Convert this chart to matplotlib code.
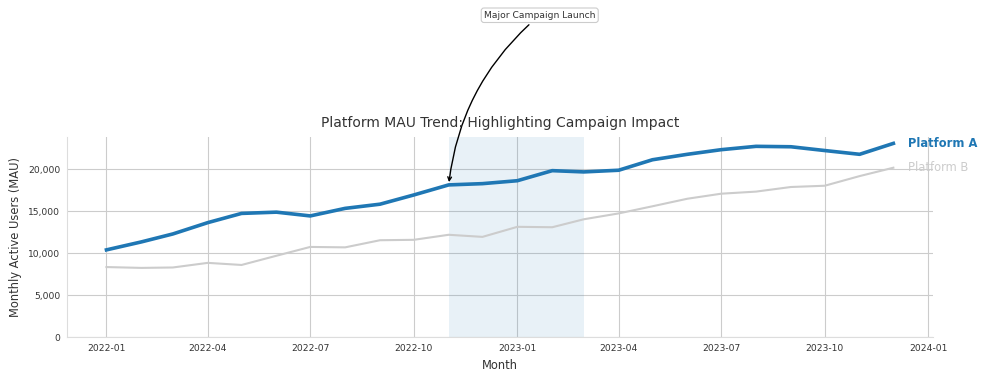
import numpy as np
import pandas as pd
import matplotlib
matplotlib.use("Agg")
import matplotlib.pyplot as plt
import matplotlib.dates as mdates
from matplotlib.ticker import FuncFormatter

# data
months = pd.date_range("2022-01-01", "2023-12-01", freq="MS")
platform_a = [10400, 11350, 12300, 13650, 14750, 14900, 14450, 15350, 15850, 16950, 18150, 18300,
              18650, 19850, 19700, 19900, 21150, 21800, 22350, 22750, 22700, 22250, 21800, 23100]
platform_b = [8350, 8250, 8300, 8850, 8600, 9700, 10750, 10700, 11550, 11600, 12200, 11950,
              13150, 13100, 14050, 14750, 15600, 16500, 17100, 17350, 17900, 18050, 19200, 20200]
campaign_start = "2022-11-01"
campaign_end = "2023-03-01"

blue = "#1f77b4"
gray = "#cccccc"
txt = "#333333"

fig = plt.figure(figsize=(9.87, 3.8), dpi=100)
ax = fig.add_axes([0.068, 0.113, 0.877, 0.526])

ax.axvspan(pd.Timestamp(campaign_start), pd.Timestamp(campaign_end), color=blue, alpha=0.1, lw=0, zorder=1)
ax.plot(months, platform_b, color=gray, lw=1.5, zorder=2)
ax.plot(months, platform_a, color=blue, lw=2.6, zorder=3)

ax.set_ylim(bottom=0)
ax.grid(True, color="#cccccc", lw=0.8)
ax.set_axisbelow(True)
for s in ["top", "right"]:
    ax.spines[s].set_visible(False)
for s in ["left", "bottom"]:
    ax.spines[s].set_color("#dddddd")
ax.tick_params(length=0, labelsize=6.6, labelcolor=txt, pad=5)
ax.xaxis.set_major_locator(mdates.MonthLocator(bymonth=[1, 4, 7, 10]))
ax.xaxis.set_major_formatter(mdates.DateFormatter("%Y-%m"))
ax.yaxis.set_major_formatter(FuncFormatter(lambda v, p: f"{int(v):,}"))

ax.set_title("Platform MAU Trend: Highlighting Campaign Impact", fontsize=10, color=txt, pad=7)
ax.set_xlabel("Month", fontsize=8.3, color=txt)
ax.set_ylabel("Monthly Active Users (MAU)", fontsize=8.3, color=txt)

ax.annotate("Platform A", xy=(months[-1], platform_a[-1]), xytext=(10.5, 0), textcoords="offset points",
            color=blue, fontsize=8.3, fontweight="bold", va="center", ha="left", annotation_clip=False)
ax.annotate("Platform B", xy=(months[-1], platform_b[-1]), xytext=(10.5, 0), textcoords="offset points",
            color=gray, fontsize=8.3, va="center", ha="left", annotation_clip=False)

ax.annotate("Major Campaign Launch", xy=(pd.Timestamp(campaign_start), platform_a[10]),
            xytext=(0.546, 1.61), textcoords="axes fraction", fontsize=6.6, color=txt,
            ha="center", va="center",
            bbox=dict(boxstyle="round,pad=0.3", fc="white", ec="#cccccc", lw=0.8),
            arrowprops=dict(arrowstyle="->", color="black", lw=1, connectionstyle="arc3,rad=0.2"))

fig.savefig("out.png", dpi=100)
